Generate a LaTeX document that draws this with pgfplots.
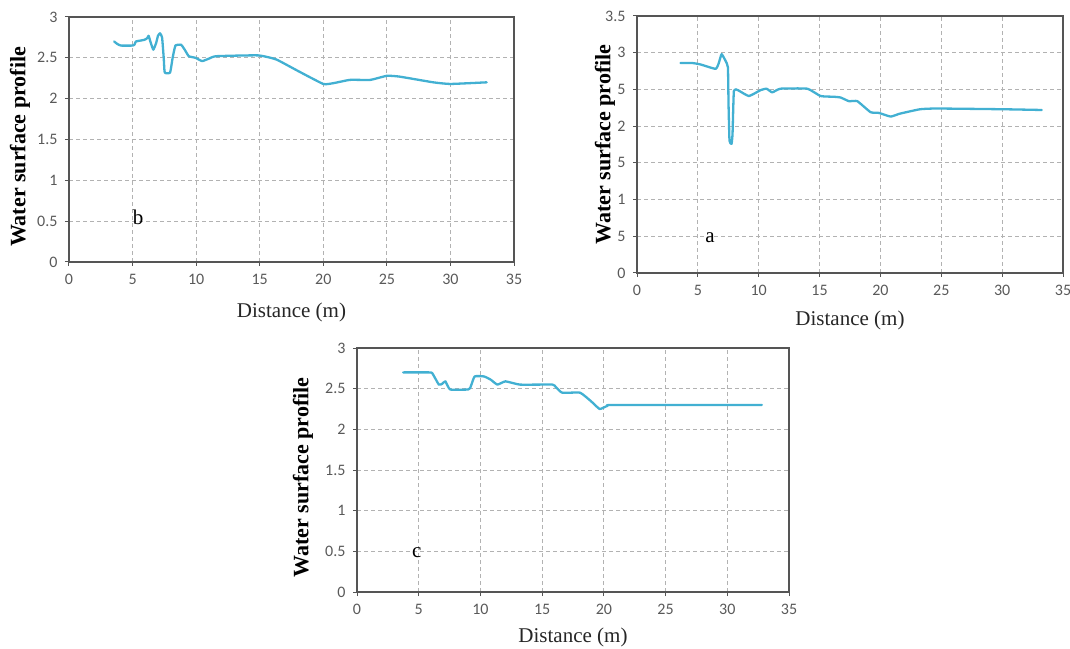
\documentclass[border=0pt]{standalone}
\usepackage{fontspec}
\usepackage{pgfplots}
\pgfplotsset{compat=1.18}
\setmainfont{Liberation Serif}
\newfontfamily\tickfont{Carlito}
\definecolor{wline}{RGB}{66,176,210}
\definecolor{tickgray}{RGB}{89,89,89}
\definecolor{gridgray}{RGB}{178,178,178}
\definecolor{framegray}{RGB}{85,85,85}
\pgfplotsset{wsp/.style={
  scale only axis, anchor=south west,
  xmin=0, xmax=35, ymin=0,
  xtick={0,5,...,35},
  grid=major,
  major grid style={gridgray, dash pattern=on 4pt off 3pt, line width=0.9pt},
  axis line style={framegray, line width=1.3pt},
  tick align=outside, major tick length=4pt,
  tick style={framegray, line width=1pt},
  xtick pos=bottom, ytick pos=left,
  ticklabel style={font=\tickfont\fontsize{16}{16}\selectfont, text=tickgray},
  xticklabel style={yshift=-5pt},
  yticklabel style={xshift=-4pt},
  /pgf/number format/assume math mode=true,
  xlabel={Distance (m)},
  ylabel={Water surface profile},
  xlabel style={font=\fontsize{21}{21}\selectfont, text=black!85, anchor=center},
  ylabel style={font=\bfseries\fontsize{22}{22}\selectfont, anchor=center},
},
wcurve/.style={wline, line width=2.3pt, mark=none, smooth, tension=0.25, line join=round, line cap=round}}
\begin{document}
\begin{tikzpicture}[x=1pt,y=1pt]
\path[use as bounding box] (0,0) rectangle (1070,648);
% panel b
\begin{axis}[wsp, at={(69pt,386pt)}, width=445pt, height=245pt, ymax=3,
  ytick={0,0.5,...,3},
  xlabel style={at={(axis description cs:0.5,0)}, yshift=-50pt},
  ylabel style={at={(axis description cs:-0.110,0.47)}}]
\addplot[wcurve] coordinates {(3.55,2.70) (3.8,2.67) (4.08,2.65) (5.0,2.65) (5.15,2.66) (5.26,2.70) (5.92,2.72) (6.15,2.74) (6.26,2.77) (6.4,2.70) (6.63,2.60) (6.85,2.68) (7.0,2.77) (7.16,2.80) (7.32,2.75) (7.45,2.50) (7.53,2.32) (7.95,2.32) (8.15,2.50) (8.37,2.65) (8.82,2.66) (9.1,2.60) (9.42,2.52) (9.95,2.50) (10.47,2.46) (11.0,2.49) (11.58,2.52) (14.87,2.53) (16.3,2.48) (18.0,2.34) (20.0,2.18) (20.8,2.19) (22.1,2.23) (23.7,2.23) (25.0,2.28) (26.0,2.27) (28.65,2.20) (30.0,2.18) (32.85,2.20)};
\node[font=\fontsize{21}{21}\selectfont] at (axis cs:5.43,0.55) {b};
\end{axis}
% panel a
\begin{axis}[wsp, at={(637pt,375pt)}, width=426pt, height=257pt, ymax=3.5,
  ytick={0,0.5,...,3.5}, yticklabels={0,5,1,5,2,5,3,3.5},
  xlabel style={at={(axis description cs:0.5,0)}, yshift=-47pt},
  ylabel style={at={(axis description cs:-0.075,0.5)}}]
\addplot[wcurve] coordinates {(3.58,2.86) (4.53,2.86) (5.22,2.84) (6.45,2.78) (6.7,2.85) (6.95,2.98) (7.27,2.89) (7.47,2.80) (7.52,2.3) (7.6,1.80) (7.77,1.76) (7.85,1.9) (7.96,2.48) (8.29,2.49) (9.19,2.41) (10.15,2.49) (10.64,2.51) (11.11,2.46) (11.79,2.51) (13.99,2.51) (15.08,2.41) (16.18,2.40) (16.73,2.39) (17.41,2.34) (18.1,2.34) (19.19,2.19) (19.88,2.18) (20.84,2.13) (21.6,2.17) (23.25,2.23) (24.62,2.24) (30.1,2.23) (33.25,2.22)};
\node[font=\fontsize{21}{21}\selectfont] at (axis cs:6.0,0.48) {a};
\end{axis}
% panel c
\begin{axis}[wsp, at={(357pt,56pt)}, width=432pt, height=244pt, ymax=3,
  ytick={0,0.5,...,3},
  xlabel style={at={(axis description cs:0.5,0)}, yshift=-45pt},
  ylabel style={at={(axis description cs:-0.125,0.47)}}]
\addplot[wcurve] coordinates {(3.74,2.70) (5.84,2.70) (6.1,2.69) (6.63,2.55) (6.9,2.56) (7.16,2.59) (7.55,2.49) (9.0,2.49) (9.2,2.52) (9.53,2.65) (10.3,2.65) (10.84,2.61) (11.37,2.55) (12.03,2.59) (13.2,2.55) (15.84,2.55) (16.1,2.52) (16.63,2.45) (18.08,2.45) (19.0,2.34) (19.66,2.25) (20.3,2.29) (20.8,2.30) (32.8,2.30)};
\node[font=\fontsize{21}{21}\selectfont] at (axis cs:4.84,0.48) {c};
\end{axis}
\end{tikzpicture}
\end{document}
